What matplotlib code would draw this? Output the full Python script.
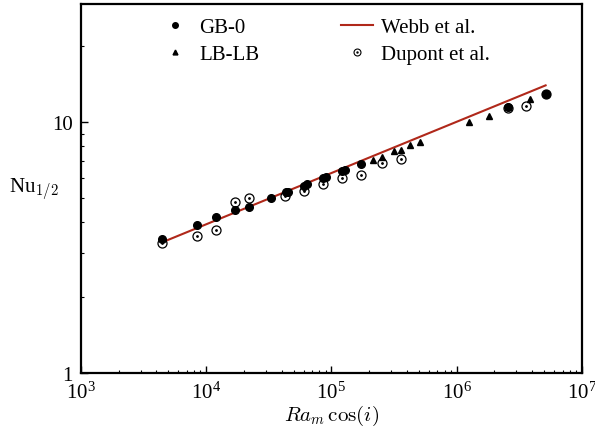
import matplotlib
matplotlib.use('Agg')
import matplotlib.pyplot as plt
from matplotlib.lines import Line2D
from matplotlib.ticker import LogLocator, NullFormatter

plt.rcParams['font.family'] = ['Liberation Serif', 'DejaVu Serif']
plt.rcParams['mathtext.fontset'] = 'cm'

# GB-0 (filled circles)
gb_x = [4400, 8500, 12000, 17000, 22100, 33000, 43300, 45000, 60700, 64100,
        86100, 90400, 120500, 128000, 171000, 2550000, 5130000]
gb_y = [3.42, 3.90, 4.17, 4.47, 4.60, 4.97, 5.25, 5.28, 5.57, 5.65,
        5.98, 6.02, 6.40, 6.46, 6.78, 11.5, 12.97]

# LB-LB (triangles)
lb_x = [213000, 253000, 318000, 359000, 426000, 506000, 1260000, 1800000,
        2550000, 3820000, 5130000]
lb_y = [7.08, 7.23, 7.64, 7.76, 8.08, 8.35, 9.97, 10.6, 11.5, 12.4, 13.0]

# Dupont et al. (open circles with dot)
dp_x = [4400, 8500, 12000, 17000, 22100, 42800, 60700, 86100, 120500,
        171000, 253000, 359000, 2550000, 3610000, 5130000]
dp_y = [3.31, 3.50, 3.71, 4.80, 4.97, 5.06, 5.33, 5.65, 5.98, 6.15,
        6.88, 7.10, 11.4, 11.6, 12.9]

# Webb et al. correlation (straight line in log-log)
webb_x = [4600, 5130000]
webb_y = [3.34, 14.0]

red = '#b0281a'

fig = plt.figure(figsize=(5.95, 4.27), dpi=100)
ax = fig.add_axes([0.136, 0.124, 0.842, 0.864])

ax.plot(webb_x, webb_y, '-', color=red, lw=1.5, zorder=2)
ax.plot(gb_x, gb_y, 'o', color='black', ms=5.5, ls='none', zorder=3)
ax.plot(lb_x, lb_y, '^', color='black', ms=5, ls='none', zorder=4)
ax.plot(dp_x, dp_y, 'o', mfc='none', mec='black', mew=0.9, ms=6.5, ls='none', zorder=5)
ax.plot(dp_x, dp_y, '.', color='black', ms=2, ls='none', zorder=5)

ax.set_xscale('log')
ax.set_yscale('log')
ax.set_xlim(1e3, 1e7)
ax.set_ylim(1, 29.5)

ax.set_yticks([1, 10])
ax.set_yticklabels(['1', '10'])
ax.yaxis.set_minor_locator(LogLocator(base=10, subs=range(2, 10)))
ax.yaxis.set_minor_formatter(NullFormatter())
ax.xaxis.set_minor_locator(LogLocator(base=10, subs=range(2, 10)))
ax.xaxis.set_minor_formatter(NullFormatter())

ax.tick_params(which='both', direction='in', top=False, right=False, labelsize=15)
ax.tick_params(which='major', length=5, width=1, pad=6)
ax.tick_params(which='minor', length=2.5, width=0.8)
for s in ax.spines.values():
    s.set_linewidth(1.6)

ax.set_xlabel(r'$Ra_m\,\cos(i)$', fontsize=15, labelpad=0)
ax.set_ylabel(r'Nu$_{1/2}$', fontsize=15, rotation=0, labelpad=13, va='center')

h_gb = Line2D([], [], marker='o', color='black', ls='none', ms=4)
h_lb = Line2D([], [], marker='^', color='black', ls='none', ms=3.5)
h_wb = Line2D([], [], color=red, lw=1.5)
h_dp1 = Line2D([], [], marker='o', mfc='none', mec='black', mew=0.8, ls='none', ms=5)
h_dp2 = Line2D([], [], marker='.', color='black', ls='none', ms=1.5)
ax.legend([h_gb, h_lb, h_wb, (h_dp1, h_dp2)],
          ['GB-0', 'LB-LB', 'Webb et al.', 'Dupont et al.'],
          ncol=2, loc='upper center', bbox_to_anchor=(0.486, 1.015), frameon=False,
          fontsize=15, handlelength=1.55, handletextpad=0.4, columnspacing=3.9,
          labelspacing=0.35)

fig.savefig('out.png', dpi=100)
